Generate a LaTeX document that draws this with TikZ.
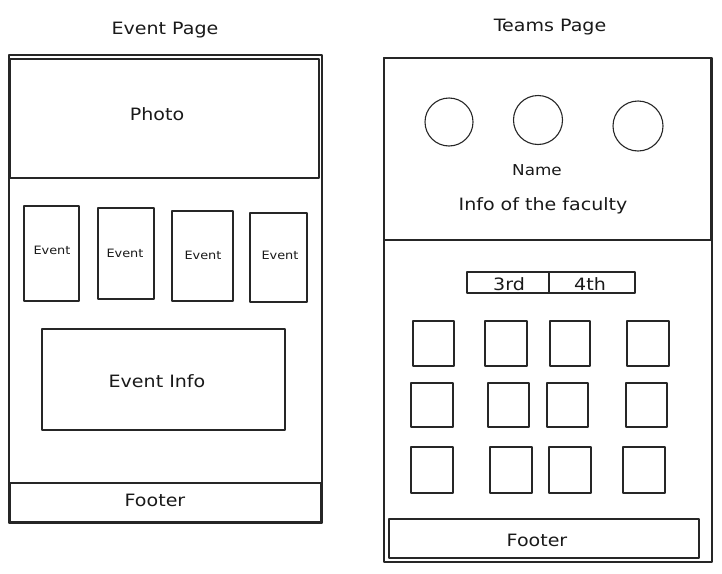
\documentclass[tikz,border=0pt]{standalone}
\usepackage{fontspec}
\setmainfont{DejaVu Sans}[FakeStretch=1.12]
\begin{document}
\begin{tikzpicture}[x=1pt,y=-1pt,
  ink/.style={draw=black!85,line width=1.1pt,line join=round,line cap=round},
  box/.style={ink,rectangle,inner sep=0pt,outer sep=0pt},
  lbl/.style={inner sep=0pt,font=\fontsize{17}{20}\selectfont,text=black!90},
  small/.style={inner sep=0pt,font=\fontsize{11.5}{14}\selectfont,text=black!90}]
\useasboundingbox (0,0) rectangle (722,573);

% ---------- Event page ----------
\node[lbl] (evtitle) at (165,30) {Event Page};
\node[box,minimum width=313pt,minimum height=468pt] (evpage) at (165.5,289) {};
\node[box,minimum width=309pt,minimum height=119pt] (photo) at (164.5,118.5) {};
\node[lbl] (photolbl) at (157,114) {Photo};

\node[box,minimum width=55pt,minimum height=95pt] (ev1) at (51.5,253.5) {};
\node[box,minimum width=56pt,minimum height=91pt] (ev2) at (126,253.5) {};
\node[box,minimum width=61pt,minimum height=90pt] (ev3) at (202.5,256) {};
\node[box,minimum width=57pt,minimum height=89pt] (ev4) at (278.5,257.5) {};
\node[small] at (52,250) {Event};
\node[small] at (125,253) {Event};
\node[small] at (203,255) {Event};
\node[small] at (280,255) {Event};

\node[box,minimum width=243pt,minimum height=101pt] (evinfo) at (163.5,379.5) {};
\node[lbl] (evinfolbl) at (157,381) {Event Info};

\node[box,minimum width=311pt,minimum height=39pt] (evfoot) at (165.5,502.5) {};
\node[lbl] (evfootlbl) at (155,500) {Footer};

% ---------- Teams page ----------
\node[lbl] (tmtitle) at (550,27) {Teams Page};
\node[box,minimum width=328pt,minimum height=504pt] (tmpage) at (548,310) {};
\node[box,minimum width=327pt,minimum height=182pt] (faculty) at (547.5,149) {};

\node[ink,circle,inner sep=0pt,minimum size=48pt] (c1) at (449,122) {};
\node[ink,circle,inner sep=0pt,minimum size=49pt] (c2) at (538,120) {};
\node[ink,circle,inner sep=0pt,minimum size=50pt] (c3) at (638,126) {};
\node[lbl,font=\fontsize{15}{18}\selectfont] (name) at (537,170) {Name};
\node[lbl] (facinfo) at (543,206) {Info of the faculty};

\node[box,minimum width=82pt,minimum height=21pt] (tab3) at (508,282.5) {};
\node[box,minimum width=86pt,minimum height=21pt] (tab4) at (592,282.5) {};
\node[lbl] at (509,284) {3rd};
\node[lbl] at (590,284) {4th};

% member tiles
\foreach \cx/\cy/\w/\h [count=\i] in {
  433.5/343.5/41/45, 506/343.5/42/45, 570/343.5/40/45, 648/343.5/42/45,
  432/405/42/44, 508.5/405/41/44, 567.5/405/41/44, 646.5/405/41/44,
  432/470/42/46, 511/470/42/46, 570/470/42/46, 644/470/42/46}
  \node[box,minimum width=\w pt,minimum height=\h pt] (tile\i) at (\cx,\cy) {};

\node[box,minimum width=310pt,minimum height=39pt] (tmfoot) at (544,538.5) {};
\node[lbl] (tmfootlbl) at (537,540) {Footer};
\end{tikzpicture}
\end{document}
